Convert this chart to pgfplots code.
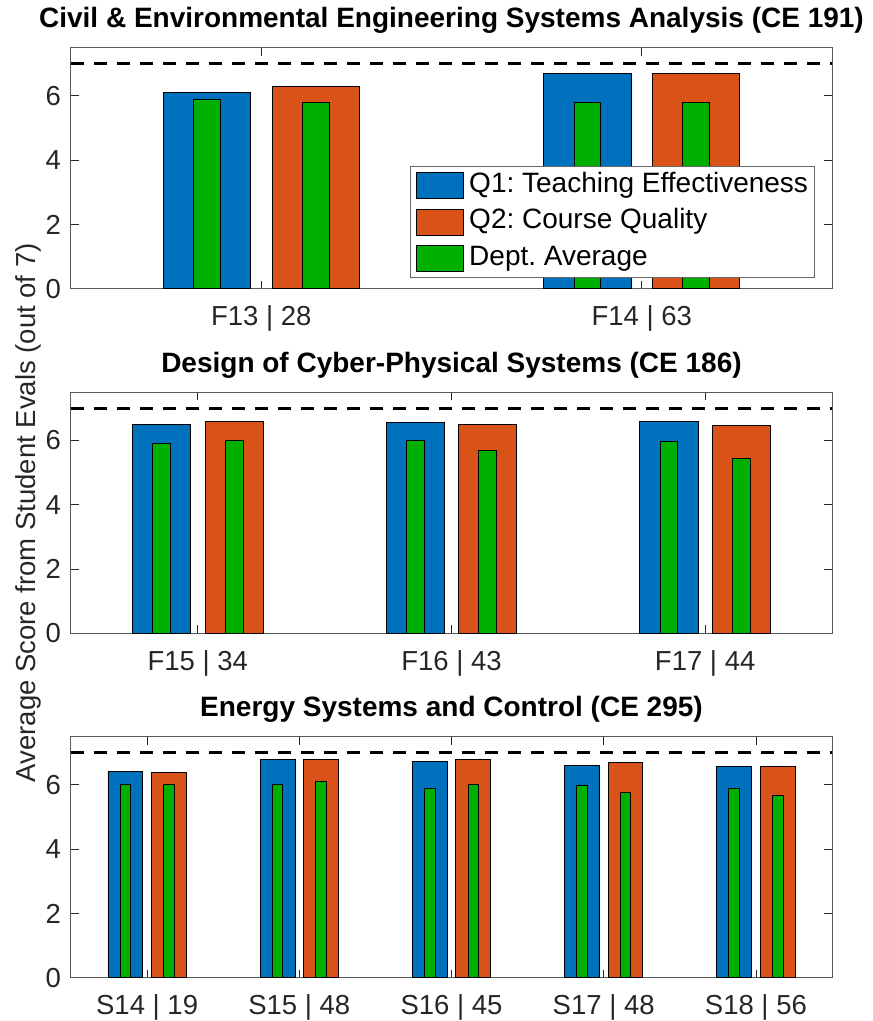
\documentclass[border=0pt]{standalone}
\usepackage{fontspec}
\setmainfont{Liberation Sans}
\usepackage{pgfplots}
\pgfplotsset{compat=1.18}
\frenchspacing
\definecolor{mblue}{rgb}{0,0.447,0.741}
\definecolor{morange}{rgb}{0.85,0.325,0.098}
\definecolor{mgreen}{RGB}{0,176,0}
\definecolor{axgray}{rgb}{0.15,0.15,0.15}
\newcommand{\tickfont}{\fontsize{27.5}{32}\selectfont}
\newcommand{\bigfont}{\fontsize{28}{33}\selectfont}
\pgfplotsset{
  panel/.style={
    scale only axis, width=761pt, height=241pt,
    anchor=north west,
    ymin=0, ymax=7.5, ytick={0,2,4,6},
    tick pos=both, tick align=inside, major tick length=8pt,
    axis line style={black!65, line width=1pt},
    every tick/.style={axgray, line width=0.8pt},
    tick label style={font=\tickfont, text=axgray},
    /pgf/number format/assume math mode=true,
    yticklabel style={anchor=east, inner sep=0pt, xshift=-10pt},
    xticklabel style={anchor=north, inner sep=0pt, yshift=-17pt},
    title style={font=\bfseries\bigfont, at={(0.5,1)}, anchor=base, yshift=14pt, inner sep=0pt},
  },
  legimg/.style={legend image code/.code={\draw[##1,draw=black,line width=0.8pt] (0pt,-13pt) rectangle (47pt,13pt);}},
  qbar/.style={ybar, bar width=0.229, draw=black, line width=0.8pt, legimg},
  gbar/.style={ybar, bar width=0.07, draw=black, line width=0.8pt, fill=mgreen, legimg},
  refline/.style={black, line width=3pt, dash pattern=on 13pt off 10pt, forget plot},
}
\begin{document}
\begin{tikzpicture}
\useasboundingbox (0,0) rectangle (873pt,1021pt);
% Panel 1
\begin{axis}[panel, at={(71pt,973.3pt)},
  title={Civil \& Environmental Engineering Systems Analysis (CE 191)},
  xmin=0.5, xmax=2.5, xtick={1,2}, xticklabels={F13 | 28, F14 | 63},
  legend style={at={(0.4455,0.509)}, anchor=north west, draw=black!60, line width=0.8pt,
    font=\bigfont, inner sep=6pt, row sep=9.3pt,
    nodes={inner sep=0pt, text height=20pt, text depth=6pt},
    /tikz/every odd column/.style={column sep=5pt}},
  legend cell align=left]
\addplot[qbar, fill=mblue, bar shift=-0.143] coordinates {(1,6.1) (2,6.7)};
\addlegendentry{Q1: Teaching Effectiveness}
\addplot[qbar, fill=morange, bar shift=0.143] coordinates {(1,6.3) (2,6.7)};
\addlegendentry{Q2: Course Quality}
\addplot[gbar, bar shift=-0.143] coordinates {(1,5.9) (2,5.8)};
\addlegendentry{Dept. Average}
\addplot[gbar, bar shift=0.143, forget plot] coordinates {(1,5.8) (2,5.8)};
\addplot[refline] coordinates {(0.5,7) (2.5,7)};
\end{axis}
% Panel 2
\begin{axis}[panel, at={(71pt,628.7pt)},
  title={Design of Cyber-Physical Systems (CE 186)},
  xmin=0.5, xmax=3.5, xtick={1,2,3}, xticklabels={F15 | 34, F16 | 43, F17 | 44},
  ylabel={Average Score from Student Evals (out of 7)},
  ylabel style={font=\tickfont, text=axgray, at={(axis description cs:-0.0473,0.5)}, anchor=base, inner sep=0pt}]
\addplot[qbar, fill=mblue, bar shift=-0.143] coordinates {(1,6.5) (2,6.57) (3,6.59)};
\addplot[qbar, fill=morange, bar shift=0.143] coordinates {(1,6.6) (2,6.5) (3,6.47)};
\addplot[gbar, bar shift=-0.143] coordinates {(1,5.9) (2,6.0) (3,5.97)};
\addplot[gbar, bar shift=0.143] coordinates {(1,6.0) (2,5.7) (3,5.43)};
\addplot[refline] coordinates {(0.5,7) (3.5,7)};
\end{axis}
% Panel 3
\begin{axis}[panel, at={(71pt,284.3pt)},
  title={Energy Systems and Control (CE 295)},
  xmin=0.5, xmax=5.5, xtick={1,2,3,4,5}, xticklabels={S14 | 19, S15 | 48, S16 | 45, S17 | 48, S18 | 56}]
\addplot[qbar, fill=mblue, bar shift=-0.143] coordinates {(1,6.42) (2,6.8) (3,6.72) (4,6.61) (5,6.57)};
\addplot[qbar, fill=morange, bar shift=0.143] coordinates {(1,6.4) (2,6.8) (3,6.8) (4,6.7) (5,6.57)};
\addplot[gbar, bar shift=-0.143] coordinates {(1,6.0) (2,6.0) (3,5.9) (4,5.98) (5,5.9)};
\addplot[gbar, bar shift=0.143] coordinates {(1,6.0) (2,6.1) (3,6.0) (4,5.77) (5,5.68)};
\addplot[refline] coordinates {(0.5,7) (5.5,7)};
\end{axis}
\end{tikzpicture}
\end{document}
